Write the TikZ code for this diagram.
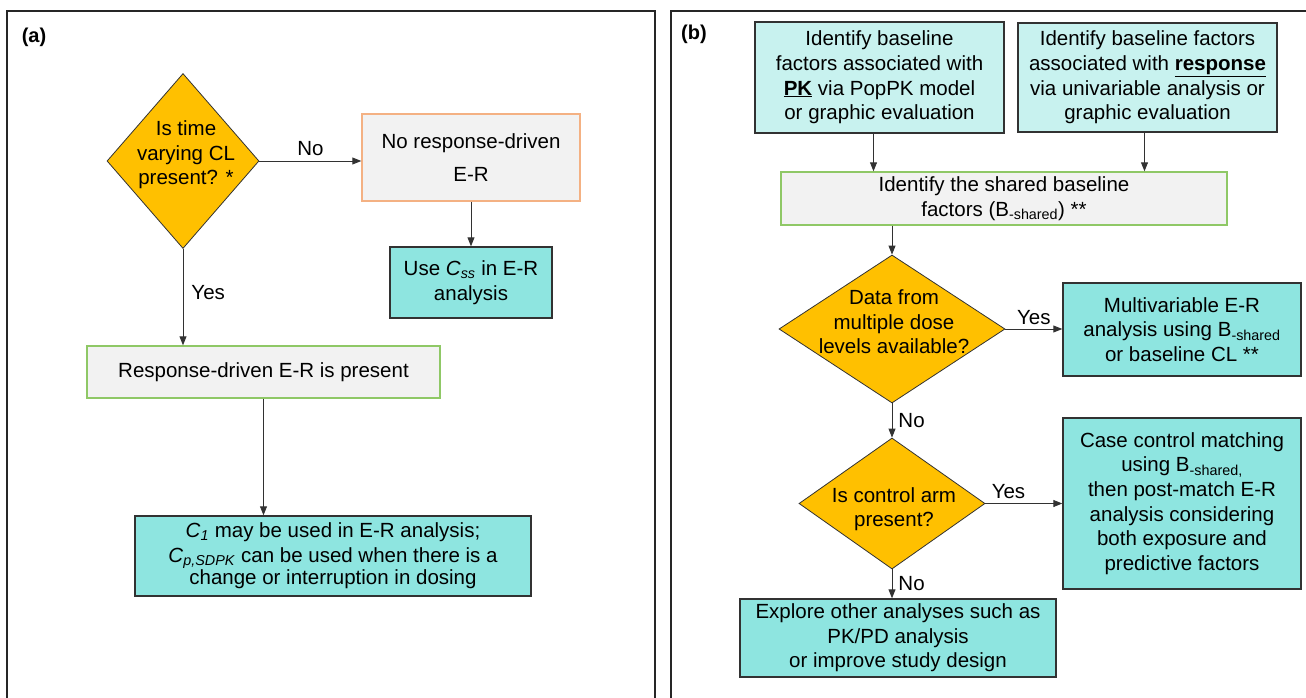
\documentclass[tikz,border=0pt]{standalone}
\usepackage{fontspec}
\setmainfont{Liberation Sans}
\usetikzlibrary{shapes.geometric,arrows.meta}
\definecolor{tq}{RGB}{142,229,224}
\definecolor{ltq}{RGB}{200,242,239}
\definecolor{gbox}{RGB}{242,242,242}
\definecolor{gold}{RGB}{255,192,0}
\definecolor{orb}{RGB}{244,177,131}
\definecolor{grb}{RGB}{143,200,102}
\definecolor{dk}{RGB}{50,50,50}
\newcommand{\fs}{\fontsize{20.5}{24.6}\selectfont}
\tikzset{
  box/.style={draw=dk, line width=1.4pt, align=center, font=\fs, inner sep=0pt},
  tqbox/.style={box, fill=tq},
  ltqbox/.style={box, fill=ltq},
  gbbox/.style={box, fill=gbox, draw=grb},
  obbox/.style={box, fill=gbox, draw=orb},
  dia/.style={diamond, draw=dk, line width=0.8pt, fill=gold, inner sep=0pt, aspect=1},
  txt/.style={align=center, font=\fs, inner sep=0pt},
  lab/.style={font=\fs, inner sep=0pt},
  arr/.style={draw=dk, line width=0.9pt, -{Triangle[length=9pt,width=7pt]}},
  frame/.style={draw=black!85, line width=1.8pt},
}
\begin{document}
\begin{tikzpicture}[x=1pt,y=-1pt]
\useasboundingbox (0,0) rectangle (1306,698);
% frames
\draw[frame] (7,698) -- (7,11) -- (655,11) -- (655,698);
\draw[frame] (671,698) -- (671,11) -- (1306,11);
\node[lab, font=\fontsize{20}{24}\selectfont\bfseries] (pa) at (34,37) {(a)};
\node[lab, font=\fontsize{20}{24}\selectfont\bfseries] (pb) at (694,34) {(b)};

% ---------- panel (a)
\node[dia, minimum width=152pt, minimum height=175pt] (d1) at (183,161) {};
\node[txt] (d1t) at (186,155) {Is time\\varying CL\\present? *};
\node[obbox, minimum width=218pt, minimum height=87pt] (n1) at (471,157.5)
  {No response-driven\\[9pt]E-R};
\node[tqbox, minimum width=162pt, minimum height=71pt] (n2) at (471,282.5)
  {Use \textit{C}\textsubscript{\textit{ss}} in E-R\\analysis};
\node[gbbox, minimum width=353pt, minimum height=52pt] (n3) at (263.5,372)
  {Response-driven E-R is present};
\node[tqbox, minimum width=396pt, minimum height=80pt] (n4) at (333,556)
  {\textit{C}\textsubscript{\textit{1}} may be used in E-R analysis;\\
   \textit{C}\textsubscript{\textit{p,SDPK}} can be used when there is a\\[-2pt]
   change or interruption in dosing};

\draw[arr] (d1.east) -- (d1.east -| n1.west) node[lab, midway, above=5pt] (l1) {No};
\draw[arr] (n1.south) -- (n2.north);
\draw[arr] (d1.south) -- (d1.south |- n3.north) node[lab, pos=0.45, right=8pt] (l2) {Yes};
\draw[arr] (n3.south) -- (n3.south |- n4.north);

% ---------- panel (b)
\node[ltqbox, minimum width=249pt, minimum height=111pt] (b1) at (879.5,77.5)
  {Identify baseline\\factors associated with\\\underline{\textbf{PK}} via PopPK model\\or graphic evaluation};
\node[ltqbox, minimum width=259pt, minimum height=109pt] (b2) at (1147.5,77.5)
  {Identify baseline factors\\associated with \underline{\textbf{response}}\\via univariable analysis or\\graphic evaluation};
\node[gbbox, minimum width=446pt, minimum height=53pt] (b3) at (1004,198.5)
  {Identify the shared baseline\\factors (B\textsubscript{-shared}) **};
\node[dia, minimum width=226pt, minimum height=148pt] (bd1) at (892,329) {};
\node[txt] (bd1t) at (894,322) {Data from\\multiple dose\\levels available?};
\node[tqbox, minimum width=238pt, minimum height=93pt] (b4) at (1182,329.5)
  {Multivariable E-R\\analysis using B\textsubscript{-shared}\\or baseline CL **};
\node[dia, minimum width=186pt, minimum height=131pt] (bd2) at (892,503.5) {};
\node[txt] (bd2t) at (894,509) {Is control arm\\present?};
\node[tqbox, minimum width=238pt, minimum height=171pt] (b5) at (1182,503.5)
  {Case control matching\\using B\textsubscript{-shared,}\\then post-match E-R\\analysis considering\\both exposure and\\predictive factors};
\node[tqbox, minimum width=316pt, minimum height=78pt] (b6) at (898,638)
  {Explore other analyses such as\\PK/PD analysis\\or improve study design};

\draw[arr] ([xshift=-6pt]b1.south) -- ([xshift=-6pt]b1.south |- b3.north);
\draw[arr] ([xshift=-3pt]b2.south) -- ([xshift=-3pt]b2.south |- b3.north);
\draw[arr] (bd1.north |- b3.south) -- (bd1.north);
\draw[arr] (bd1.east) -- (bd1.east -| b4.west) node[lab, midway, above=4pt] (l3) {Yes};
\draw[arr] (bd1.south) -- (bd2.north) node[lab, midway, right=6pt] (l4) {No};
\draw[arr] (bd2.east) -- (bd2.east -| b5.west) node[lab, pos=0.3, above=4pt] (l5) {Yes};
\draw[arr] (bd2.south) -- (bd2.south |- b6.north) node[lab, midway, right=6pt] (l6) {No};
\end{tikzpicture}
\end{document}
